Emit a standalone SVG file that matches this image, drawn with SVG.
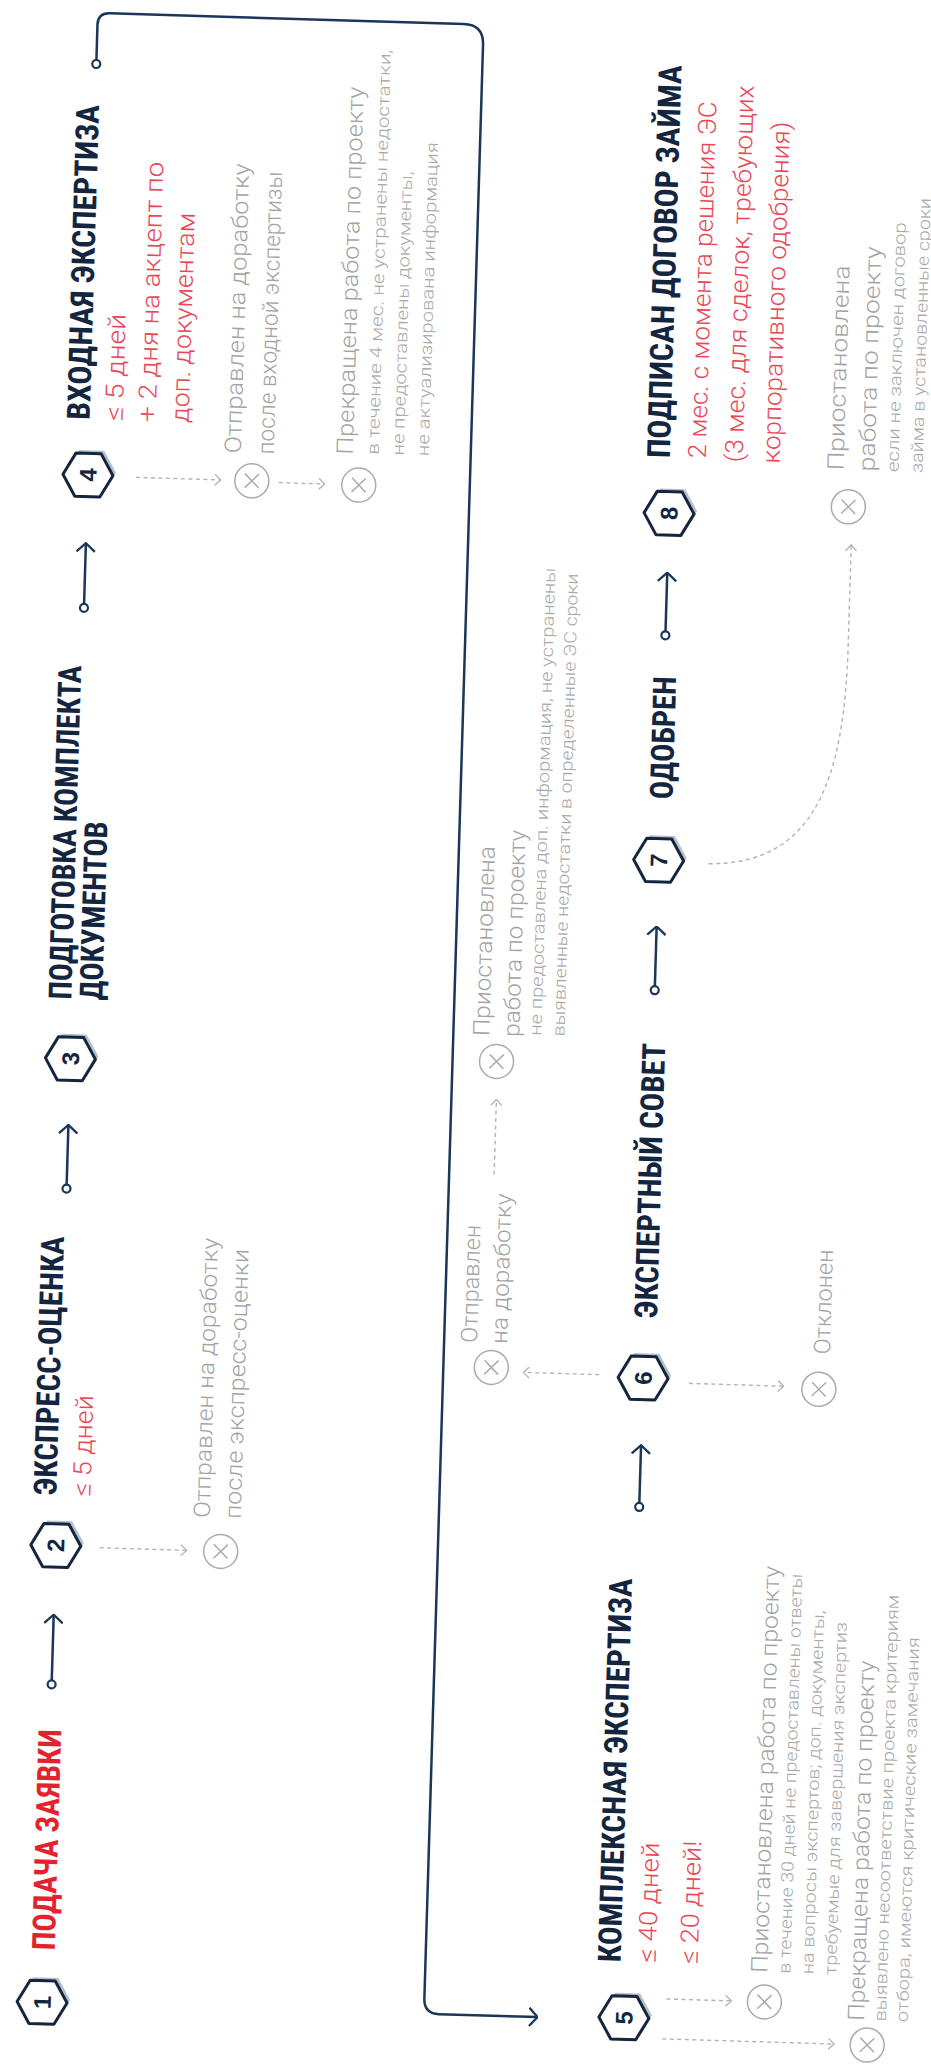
<svg xmlns="http://www.w3.org/2000/svg" width="931" height="2071" viewBox="0 0 931 2071">
<defs>
<style>
.t{font-family:"Liberation Sans Narrow","Roboto Condensed","Liberation Sans",sans-serif;font-weight:700;font-size:32px;fill:#13253f}
.tr{fill:#e4222d}
.s{font-family:Roboto,"Liberation Sans",sans-serif;font-weight:300;font-size:25px;fill:#ea4655}
.g{font-family:Roboto,"Liberation Sans",sans-serif;font-weight:300;font-size:23px;fill:#a3a3a3}
.gs{font-family:Roboto,"Liberation Sans",sans-serif;font-weight:300;font-size:17px;fill:#a8a8a8}
.n{font-family:"Liberation Sans",sans-serif;font-weight:700;font-size:24px;fill:#13253f;text-anchor:middle}
.c{fill:none;stroke:#1b3658;stroke-width:2.5}
.d{fill:none;stroke:#b3b3b3;stroke-width:1.4;stroke-dasharray:4 3.5}
.x{fill:none;stroke:#ababab;stroke-width:1.5}
.hs{fill:#b7bfcb}
.hm{fill:#fff;stroke:#13253f;stroke-width:3;stroke-linejoin:round}
</style>
<polygon id="hx" points="0,-25 21.65,-12.5 21.65,12.5 0,25 -21.65,12.5 -21.65,-12.5"/>
<g id="xc" class="x"><circle r="17"/><path d="M-7,-7 L7,7 M7,-7 L-7,7"/></g>
<marker id="ah" viewBox="0 0 10 20" refX="9.5" refY="10" markerWidth="10" markerHeight="20" markerUnits="userSpaceOnUse" orient="auto"><path d="M0.8,0.8 L9.2,10 L0.8,19.2" fill="none" stroke="#1b3658" stroke-width="2.3"/></marker>
<marker id="oc" viewBox="-6 -6 12 12" refX="0" refY="0" markerWidth="12" markerHeight="12" markerUnits="userSpaceOnUse"><circle r="4" fill="#fff" stroke="#1b3658" stroke-width="2.2"/></marker>
<marker id="gh" viewBox="0 0 7 12" refX="6.5" refY="6" markerWidth="7" markerHeight="12" markerUnits="userSpaceOnUse" orient="auto"><path d="M0.5,0.5 L6.5,6 L0.5,11.5" fill="none" stroke="#b3b3b3" stroke-width="1.3"/></marker>
</defs>
<rect width="931" height="2071" fill="#fff"/>
<g transform="translate(0,2071) rotate(-88.28)">
<g id="connectors">
<path class="c" d="M388,40 L458,40" marker-start="url(#oc)" marker-end="url(#ah)"/>
<path class="c" d="M884,40 L948,40" marker-start="url(#oc)" marker-end="url(#ah)"/>
<path class="c" d="M1465,40 L1530,40" marker-start="url(#oc)" marker-end="url(#ah)"/>
<path class="c" d="M2009,36 L2048,36 Q2060,36 2060,48 L2060,402 Q2060,422 2040,422 L85,422 Q70,422 70,437 L70,536" marker-start="url(#oc)" marker-end="url(#ah)"/>
<path class="c" d="M583,622 L645,622" marker-start="url(#oc)" marker-end="url(#ah)"/>
<path class="c" d="M1100,622 L1164,622" marker-start="url(#oc)" marker-end="url(#ah)"/>
<path class="c" d="M1455,622 L1518,622" marker-start="url(#oc)" marker-end="url(#ah)"/>
<path class="d" d="M526,84 L526,171" marker-end="url(#gh)"/>
<path class="d" d="M1597,88 L1597,173" marker-end="url(#gh)"/>
<path class="d" d="M1596,231 L1596,277" marker-end="url(#gh)"/>
<path class="d" d="M92,664 L92,729" marker-end="url(#gh)"/>
<path class="d" d="M52,661 L52,833" marker-end="url(#gh)"/>
<path class="d" d="M714,578 L714,502" marker-end="url(#gh)"/>
<path class="d" d="M911,467 L986,467" marker-end="url(#gh)"/>
<path class="d" d="M708,668 L708,763" marker-end="url(#gh)"/>
<path class="d" d="M1228,672 C1230,780 1320,805 1450,805 L1551,805" marker-end="url(#gh)"/>
</g>
<g id="n1">
<g transform="translate(70,40)"><use href="#hx" class="hs" transform="translate(3,3)"/><use href="#hx" class="hm"/><text class="n" y="8.5">1</text></g>
<text class="t tr" x="122" y="51" textLength="221" lengthAdjust="spacingAndGlyphs">ПОДАЧА ЗАЯВКИ</text>
</g>
<g id="n2">
<g transform="translate(527,40)"><use href="#hx" class="hs" transform="translate(3,3)"/><use href="#hx" class="hm"/><text class="n" y="8.5">2</text></g>
<text class="t" x="577" y="39" textLength="259" lengthAdjust="spacingAndGlyphs">ЭКСПРЕСС-ОЦЕНКА</text>
<text class="s" x="577" y="73" textLength="101" lengthAdjust="spacingAndGlyphs">≤ 5 дней</text>
</g>
<g id="o2">
<use href="#xc" x="526" y="205"/>
<text class="g" x="559" y="193" textLength="280" lengthAdjust="spacingAndGlyphs">Отправлен на доработку</text>
<text class="g" x="559" y="224" textLength="270" lengthAdjust="spacingAndGlyphs">после экспресс-оценки</text>
</g>
<g id="n3">
<g transform="translate(1014,40)"><use href="#hx" class="hs" transform="translate(3,3)"/><use href="#hx" class="hm"/><text class="n" y="8.5">3</text></g>
<text class="t" x="1073" y="39" textLength="334" lengthAdjust="spacingAndGlyphs">ПОДГОТОВКА КОМПЛЕКТА</text>
<text class="t" x="1073" y="70" textLength="179" lengthAdjust="spacingAndGlyphs">ДОКУМЕНТОВ</text>
</g>
<g id="n4">
<g transform="translate(1598,40)"><use href="#hx" class="hs" transform="translate(3,3)"/><use href="#hx" class="hm"/><text class="n" y="8.5">4</text></g>
<text class="t" x="1653" y="40" textLength="315" lengthAdjust="spacingAndGlyphs">ВХОДНАЯ ЭКСПЕРТИЗА</text>
<text class="s" x="1653" y="73" textLength="107" lengthAdjust="spacingAndGlyphs">≤ 5 дней</text>
<text class="s" x="1653" y="106" textLength="260" lengthAdjust="spacingAndGlyphs">+ 2 дня на акцепт по</text>
<text class="s" x="1653" y="139" textLength="210" lengthAdjust="spacingAndGlyphs">доп. документам</text>
</g>
<g id="o4a">
<use href="#xc" x="1597" y="204"/>
<text class="g" x="1624" y="192" textLength="290" lengthAdjust="spacingAndGlyphs">Отправлен на доработку</text>
<text class="g" x="1624" y="225" textLength="283" lengthAdjust="spacingAndGlyphs">после входной экспертизы</text>
</g>
<g id="o4b">
<use href="#xc" x="1596" y="311"/>
<text class="g" x="1626" y="304" textLength="368" lengthAdjust="spacingAndGlyphs">Прекращена работа по проекту</text>
<text class="gs" x="1627" y="330" textLength="405" lengthAdjust="spacingAndGlyphs">в течение 4 мес. не устранены недостатки,</text>
<text class="gs" x="1627" y="355" textLength="284" lengthAdjust="spacingAndGlyphs">не предоставлены документы,</text>
<text class="gs" x="1627" y="380" textLength="314" lengthAdjust="spacingAndGlyphs">не актуализирована информация</text>
</g>
<g id="n5">
<g transform="translate(72,622)"><use href="#hx" class="hs" transform="translate(3,3)"/><use href="#hx" class="hm"/><text class="n" y="8.5">5</text></g>
<text class="t" x="127" y="617" textLength="384" lengthAdjust="spacingAndGlyphs">КОМПЛЕКСНАЯ ЭКСПЕРТИЗА</text>
<text class="s" x="128" y="652" textLength="120" lengthAdjust="spacingAndGlyphs">≤ 40 дней</text>
<text class="s" x="128" y="694" textLength="123" lengthAdjust="spacingAndGlyphs">≤ 20 дней!</text>
</g>
<g id="o5a">
<use href="#xc" x="92" y="762"/>
<text class="g" x="121" y="764" textLength="407" lengthAdjust="spacingAndGlyphs">Приостановлена работа по проекту</text>
<text class="gs" x="121" y="787" textLength="400" lengthAdjust="spacingAndGlyphs">в течение 30 дней не предоставлены ответы</text>
<text class="gs" x="121" y="810" textLength="364" lengthAdjust="spacingAndGlyphs">на вопросы экспертов; доп. документы,</text>
<text class="gs" x="121" y="833" textLength="353" lengthAdjust="spacingAndGlyphs">требуемые для завершения экспертиз</text>
</g>
<g id="o5b">
<use href="#xc" x="52" y="866"/>
<text class="g" x="76" y="862" textLength="360" lengthAdjust="spacingAndGlyphs">Прекращена работа по проекту</text>
<text class="gs" x="76" y="884" textLength="427" lengthAdjust="spacingAndGlyphs">выявлено несоответствие проекта критериям</text>
<text class="gs" x="76" y="906" textLength="385" lengthAdjust="spacingAndGlyphs">отбора, имеются критические замечания</text>
</g>
<g id="n6">
<g transform="translate(712,622)"><use href="#hx" class="hs" transform="translate(3,3)"/><use href="#hx" class="hm"/><text class="n" y="8.5">6</text></g>
<text class="t" x="772" y="634" textLength="275" lengthAdjust="spacingAndGlyphs">ЭКСПЕРТНЫЙ СОВЕТ</text>
</g>
<g id="o6a">
<use href="#xc" x="718" y="470"/>
<text class="g" x="742" y="455" textLength="118" lengthAdjust="spacingAndGlyphs">Отправлен</text>
<text class="g" x="742" y="485" textLength="150" lengthAdjust="spacingAndGlyphs">на доработку</text>
</g>
<g id="o6b">
<use href="#xc" x="1024" y="466"/>
<text class="g" x="1049" y="458" textLength="190" lengthAdjust="spacingAndGlyphs">Приостановлена</text>
<text class="g" x="1049" y="488" textLength="207" lengthAdjust="spacingAndGlyphs">работа по проекту</text>
<text class="gs" x="1051" y="510" textLength="468" lengthAdjust="spacingAndGlyphs">не предоставлена доп. информация, не устранены</text>
<text class="gs" x="1051" y="533" textLength="463" lengthAdjust="spacingAndGlyphs">выявленные недостатки в определенные ЭС сроки</text>
</g>
<g id="o6c">
<use href="#xc" x="706" y="798"/>
<text class="g" x="741" y="808" textLength="105" lengthAdjust="spacingAndGlyphs">Отклонен</text>
</g>
<g id="n7">
<g transform="translate(1230,622)"><use href="#hx" class="hs" transform="translate(3,3)"/><use href="#hx" class="hm"/><text class="n" y="8.5">7</text></g>
<text class="t" x="1291" y="634" textLength="123" lengthAdjust="spacingAndGlyphs">ОДОБРЕН</text>
</g>
<g id="n8">
<g transform="translate(1577,622)"><use href="#hx" class="hs" transform="translate(3,3)"/><use href="#hx" class="hm"/><text class="n" y="8.5">8</text></g>
<text class="t" x="1632" y="621" textLength="393" lengthAdjust="spacingAndGlyphs">ПОДПИСАН ДОГОВОР ЗАЙМА</text>
<text class="s" x="1633" y="657" textLength="357" lengthAdjust="spacingAndGlyphs">2 мес. с момента решения ЭС</text>
<text class="s" x="1630" y="694" textLength="377" lengthAdjust="spacingAndGlyphs">(3 мес. для сделок, требующих</text>
<text class="s" x="1630" y="731" textLength="342" lengthAdjust="spacingAndGlyphs">корпоративного одобрения)</text>
</g>
<g id="o8">
<use href="#xc" x="1589" y="801"/>
<text class="g" x="1625" y="795" textLength="205" lengthAdjust="spacingAndGlyphs">Приостановлена</text>
<text class="g" x="1625" y="826" textLength="225" lengthAdjust="spacingAndGlyphs">работа по проекту</text>
<text class="gs" x="1625" y="850" textLength="250" lengthAdjust="spacingAndGlyphs">если не заключен договор</text>
<text class="gs" x="1625" y="874" textLength="275" lengthAdjust="spacingAndGlyphs">займа в установленные сроки</text>
</g>
</g>
</svg>
